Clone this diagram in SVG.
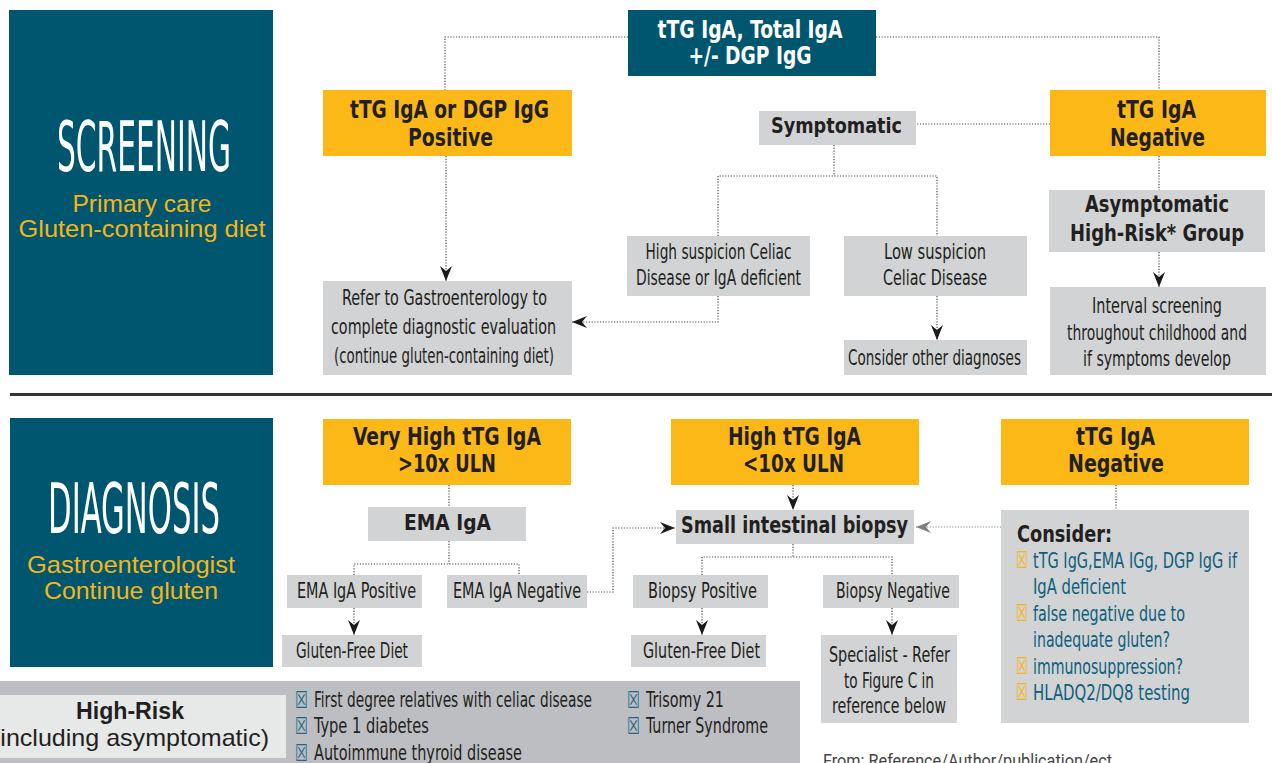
<svg xmlns="http://www.w3.org/2000/svg" width="1272" height="763" viewBox="0 0 1272 763">
<defs>
<style>
.teal{fill:#00566F}
.yel{fill:#FBB817}
.gry{fill:#D1D3D4}
text{font-family:"Liberation Sans Narrow","DejaVu Sans Condensed","Liberation Sans",sans-serif;font-stretch:condensed;fill:#231F20}
.b{font-weight:bold}
.m{text-anchor:middle}
.s21{font-size:21px}
.s22{font-size:22px}
.s23{font-size:23px}
.s25{font-size:25px}
.wt{fill:#FFFFFF}
.big{font-size:70px;fill:#FFFFFF}
.sub{font-family:"Liberation Sans","Noto Sans",sans-serif;font-stretch:normal;font-size:24px;fill:#F7B515}
.ck{font-family:"DejaVu Sans",sans-serif;font-stretch:normal;font-size:23px}
.cko{fill:#F7B515}
.ckt{fill:#1B6C8A}
.tl{fill:#0E5F7C}
.conn path{fill:none;stroke:#4a4a4a;stroke-width:1.2;stroke-dasharray:1.2 1.6}
.conn path.g{stroke:#8a8a8a}
</style>
<marker id="ah" markerUnits="userSpaceOnUse" viewBox="-16 -7 17 14" markerWidth="17" markerHeight="14" refX="0" refY="0" orient="auto">
<path d="M0,0 L-15,-6 L-10,0 L-15,6 Z" fill="#1a1a1a"/>
</marker>
<marker id="ahg" markerUnits="userSpaceOnUse" viewBox="-16 -7 17 14" markerWidth="17" markerHeight="14" refX="0" refY="0" orient="auto">
<path d="M0,0 L-15,-6 L-10,0 L-15,6 Z" fill="#808080"/>
</marker>
</defs>
<rect width="1272" height="763" fill="#FFFFFF"/>

<!-- Screening section -->
<g id="screening-panel">
<rect class="teal" x="9" y="10" width="264" height="365"/>
<text class="big m" x="144" y="171" textLength="174" lengthAdjust="spacingAndGlyphs">SCREENING</text>
<text class="sub m" x="142" y="212" textLength="139" lengthAdjust="spacingAndGlyphs">Primary care</text>
<text class="sub m" x="142" y="237" textLength="247" lengthAdjust="spacingAndGlyphs">Gluten-containing diet</text>
</g>

<g id="test-panel">
<rect class="teal" x="628" y="10" width="248" height="66"/>
<text class="b m s25 wt" x="750" y="38" textLength="185" lengthAdjust="spacingAndGlyphs">tTG IgA, Total IgA</text>
<text class="b m s25 wt" x="750" y="64" textLength="123" lengthAdjust="spacingAndGlyphs">+/- DGP IgG</text>
</g>

<g id="ttg-positive">
<rect class="yel" x="323" y="90" width="249" height="66"/>
<text class="b m s25" x="449.5" y="118" textLength="199" lengthAdjust="spacingAndGlyphs">tTG IgA or DGP IgG</text>
<text class="b m s25" x="450.5" y="146" textLength="85" lengthAdjust="spacingAndGlyphs">Positive</text>
</g>

<g id="symptomatic">
<rect class="gry" x="759" y="111" width="157" height="34"/>
<text class="b m s22" x="836.5" y="133" textLength="131" lengthAdjust="spacingAndGlyphs">Symptomatic</text>
</g>

<g id="ttg-negative-screen">
<rect class="yel" x="1050" y="90" width="216" height="66"/>
<text class="b m s25" x="1156.5" y="118" textLength="79" lengthAdjust="spacingAndGlyphs">tTG IgA</text>
<text class="b m s25" x="1157.5" y="146" textLength="95" lengthAdjust="spacingAndGlyphs">Negative</text>
</g>

<g id="high-suspicion">
<rect class="gry" x="627" y="236" width="183" height="60"/>
<text class="m s21" x="718.5" y="259" textLength="146" lengthAdjust="spacingAndGlyphs">High suspicion Celiac</text>
<text class="m s21" x="718.5" y="285" textLength="165" lengthAdjust="spacingAndGlyphs">Disease or IgA deficient</text>
</g>

<g id="low-suspicion">
<rect class="gry" x="844" y="236" width="183" height="60"/>
<text class="m s21" x="935" y="259" textLength="102" lengthAdjust="spacingAndGlyphs">Low suspicion</text>
<text class="m s21" x="935" y="285" textLength="104" lengthAdjust="spacingAndGlyphs">Celiac Disease</text>
</g>

<g id="consider-other">
<rect class="gry" x="844" y="340" width="183" height="35"/>
<text class="m s21" x="934.5" y="365" textLength="173" lengthAdjust="spacingAndGlyphs">Consider other diagnoses</text>
</g>

<g id="asymptomatic">
<rect class="gry" x="1049" y="190" width="216" height="62"/>
<text class="b m s23" x="1157" y="212" textLength="144" lengthAdjust="spacingAndGlyphs">Asymptomatic</text>
<text class="b m s23" x="1157" y="241" textLength="174" lengthAdjust="spacingAndGlyphs">High-Risk* Group</text>
</g>

<g id="refer">
<rect class="gry" x="323" y="281" width="249" height="94"/>
<text class="m s22" x="444.5" y="305" textLength="205" lengthAdjust="spacingAndGlyphs">Refer to Gastroenterology to</text>
<text class="m s22" x="443.5" y="334" textLength="225" lengthAdjust="spacingAndGlyphs">complete diagnostic evaluation</text>
<text class="m s22" x="444" y="363" textLength="220" lengthAdjust="spacingAndGlyphs">(continue gluten-containing diet)</text>
</g>

<g id="interval">
<rect class="gry" x="1050" y="287" width="216" height="88"/>
<text class="m s21" x="1157" y="313" textLength="130" lengthAdjust="spacingAndGlyphs">Interval screening</text>
<text class="m s21" x="1157" y="340" textLength="180" lengthAdjust="spacingAndGlyphs">throughout childhood and</text>
<text class="m s21" x="1157" y="366" textLength="148" lengthAdjust="spacingAndGlyphs">if symptoms develop</text>
</g>

<!-- divider -->
<line x1="10" y1="394.5" x2="1272" y2="394.5" stroke="#333333" stroke-width="3"/>

<!-- Diagnosis section -->
<g id="diagnosis-panel">
<rect class="teal" x="10" y="418" width="263" height="249"/>
<text class="big m" x="134" y="533" textLength="172" lengthAdjust="spacingAndGlyphs">DIAGNOSIS</text>
<text class="sub m" x="131" y="573" textLength="208" lengthAdjust="spacingAndGlyphs">Gastroenterologist</text>
<text class="sub m" x="131" y="599" textLength="174" lengthAdjust="spacingAndGlyphs">Continue gluten</text>
</g>

<g id="very-high">
<rect class="yel" x="323" y="419" width="248" height="66"/>
<text class="b m s25" x="447" y="445" textLength="188" lengthAdjust="spacingAndGlyphs">Very High tTG IgA</text>
<text class="b m s25" x="447" y="472" textLength="98" lengthAdjust="spacingAndGlyphs">&gt;10x ULN</text>
</g>

<g id="ema">
<rect class="gry" x="368" y="507" width="158" height="34"/>
<text class="b m s22" x="447.5" y="530" textLength="87" lengthAdjust="spacingAndGlyphs">EMA IgA</text>
</g>

<g id="ema-positive">
<rect class="gry" x="287" y="575" width="135" height="33"/>
<text class="m s21" x="356.5" y="598" textLength="119" lengthAdjust="spacingAndGlyphs">EMA IgA Positive</text>
</g>

<g id="ema-negative">
<rect class="gry" x="447" y="575" width="140" height="33"/>
<text class="m s21" x="517" y="598" textLength="128" lengthAdjust="spacingAndGlyphs">EMA IgA Negative</text>
</g>

<g id="gfd-1">
<rect class="gry" x="282" y="635" width="140" height="32"/>
<text class="m s21" x="352" y="658" textLength="112" lengthAdjust="spacingAndGlyphs">Gluten-Free Diet</text>
</g>

<g id="high-ttg">
<rect class="yel" x="671" y="419" width="248" height="66"/>
<text class="b m s25" x="794.5" y="445" textLength="133" lengthAdjust="spacingAndGlyphs">High tTG IgA</text>
<text class="b m s25" x="793.5" y="472" textLength="101" lengthAdjust="spacingAndGlyphs">&lt;10x ULN</text>
</g>

<g id="ttg-negative-diag">
<rect class="yel" x="1001" y="419" width="248" height="66"/>
<text class="b m s25" x="1115.5" y="445" textLength="79" lengthAdjust="spacingAndGlyphs">tTG IgA</text>
<text class="b m s25" x="1116" y="472" textLength="96" lengthAdjust="spacingAndGlyphs">Negative</text>
</g>

<g id="biopsy">
<rect class="gry" x="676" y="510" width="238" height="34"/>
<text class="b m s23" x="794.5" y="533" textLength="227" lengthAdjust="spacingAndGlyphs">Small intestinal biopsy</text>
</g>

<g id="biopsy-positive">
<rect class="gry" x="633" y="575" width="135" height="33"/>
<text class="m s21" x="702.5" y="598" textLength="109" lengthAdjust="spacingAndGlyphs">Biopsy Positive</text>
</g>

<g id="biopsy-negative">
<rect class="gry" x="823" y="575" width="136" height="33"/>
<text class="m s21" x="893" y="598" textLength="114" lengthAdjust="spacingAndGlyphs">Biopsy Negative</text>
</g>

<g id="gfd-2">
<rect class="gry" x="631" y="635" width="135" height="32"/>
<text class="m s21" x="701.5" y="658" textLength="117" lengthAdjust="spacingAndGlyphs">Gluten-Free Diet</text>
</g>

<g id="specialist">
<rect class="gry" x="821" y="635" width="136" height="88"/>
<text class="m s21" x="889.5" y="662" textLength="121" lengthAdjust="spacingAndGlyphs">Specialist - Refer</text>
<text class="m s21" x="889" y="688" textLength="90" lengthAdjust="spacingAndGlyphs">to Figure C in</text>
<text class="m s21" x="889" y="713" textLength="114" lengthAdjust="spacingAndGlyphs">reference below</text>
</g>

<g id="consider">
<rect class="gry" x="1001" y="510" width="248" height="213"/>
<text class="b s23" x="1017" y="542" textLength="95" lengthAdjust="spacingAndGlyphs">Consider:</text>
<text class="ck cko" x="1016" y="568" textLength="12" lengthAdjust="spacingAndGlyphs">☒</text>
<text class="s21 tl" x="1033" y="568" textLength="204" lengthAdjust="spacingAndGlyphs">tTG IgG,EMA IGg, DGP IgG if</text>
<text class="s21 tl" x="1033" y="594" textLength="93" lengthAdjust="spacingAndGlyphs">IgA deficient</text>
<text class="ck cko" x="1016" y="621" textLength="12" lengthAdjust="spacingAndGlyphs">☒</text>
<text class="s21 tl" x="1033" y="621" textLength="152" lengthAdjust="spacingAndGlyphs">false negative due to</text>
<text class="s21 tl" x="1033" y="647" textLength="137" lengthAdjust="spacingAndGlyphs">inadequate gluten?</text>
<text class="ck cko" x="1016" y="674" textLength="12" lengthAdjust="spacingAndGlyphs">☒</text>
<text class="s21 tl" x="1033" y="674" textLength="150" lengthAdjust="spacingAndGlyphs">immunosuppression?</text>
<text class="ck cko" x="1016" y="700" textLength="12" lengthAdjust="spacingAndGlyphs">☒</text>
<text class="s21 tl" x="1033" y="700" textLength="157" lengthAdjust="spacingAndGlyphs">HLADQ2/DQ8 testing</text>
</g>

<!-- High-risk band -->
<g id="high-risk">
<rect x="0" y="681" width="800" height="82" fill="#BDBEC2"/>
<rect x="0" y="695" width="286" height="63" fill="#E7E8E8"/>
<text x="130" y="719" text-anchor="middle" style="font-family:'Liberation Sans','Noto Sans',sans-serif;font-stretch:normal;font-size:23px;font-weight:bold" textLength="108" lengthAdjust="spacingAndGlyphs">High-Risk</text>
<text x="-8" y="746" style="font-family:'Liberation Sans','Noto Sans',sans-serif;font-stretch:normal;font-size:24px" textLength="277" lengthAdjust="spacingAndGlyphs">(including asymptomatic)</text>
<text class="ck ckt" x="295" y="708" textLength="13" lengthAdjust="spacingAndGlyphs">☒</text>
<text class="s21" x="314" y="707" textLength="278" lengthAdjust="spacingAndGlyphs">First degree relatives with celiac disease</text>
<text class="ck ckt" x="295" y="734" textLength="13" lengthAdjust="spacingAndGlyphs">☒</text>
<text class="s21" x="314" y="733" textLength="115" lengthAdjust="spacingAndGlyphs">Type 1 diabetes</text>
<text class="ck ckt" x="295" y="761" textLength="13" lengthAdjust="spacingAndGlyphs">☒</text>
<text class="s21" x="314" y="760" textLength="208" lengthAdjust="spacingAndGlyphs">Autoimmune thyroid disease</text>
<text class="ck ckt" x="627" y="708" textLength="13" lengthAdjust="spacingAndGlyphs">☒</text>
<text class="s21" x="646" y="707" textLength="78" lengthAdjust="spacingAndGlyphs">Trisomy 21</text>
<text class="ck ckt" x="627" y="734" textLength="13" lengthAdjust="spacingAndGlyphs">☒</text>
<text class="s21" x="646" y="733" textLength="122" lengthAdjust="spacingAndGlyphs">Turner Syndrome</text>
</g>

<text x="823" y="767" style="font-family:Roboto,'Liberation Sans',sans-serif;font-stretch:normal;font-size:18px;fill:#444444" textLength="289" lengthAdjust="spacingAndGlyphs">From: Reference/Author/publication/ect</text>

<!-- Connectors -->
<g class="conn">
<path d="M628,37 H445 V90"/>
<path d="M876,37 H1159 V90"/>
<path d="M446,156 V281" marker-end="url(#ah)"/>
<path d="M1050,124 H916"/>
<path d="M834,145 V176"/>
<path d="M718,236 V176 H937 V236"/>
<path d="M718,296 V322 H572" marker-end="url(#ah)"/>
<path d="M937,296 V340" marker-end="url(#ah)"/>
<path d="M1159,156 V190"/>
<path d="M1159,252 V287" marker-end="url(#ah)"/>
<path d="M449,485 V507"/>
<path d="M449,541 V564"/>
<path d="M354,575 V564 H519 V575"/>
<path d="M354,608 V635" marker-end="url(#ah)"/>
<path d="M587,592 H613 V528 H675" marker-end="url(#ah)"/>
<path d="M793,485 V510" marker-end="url(#ah)"/>
<path class="g" d="M1001,527 H916" marker-end="url(#ahg)"/>
<path d="M1116,485 V510"/>
<path d="M793,544 V557"/>
<path d="M702,575 V557 H892 V575"/>
<path d="M702,608 V635" marker-end="url(#ah)"/>
<path d="M892,608 V635" marker-end="url(#ah)"/>
</g>
</svg>
